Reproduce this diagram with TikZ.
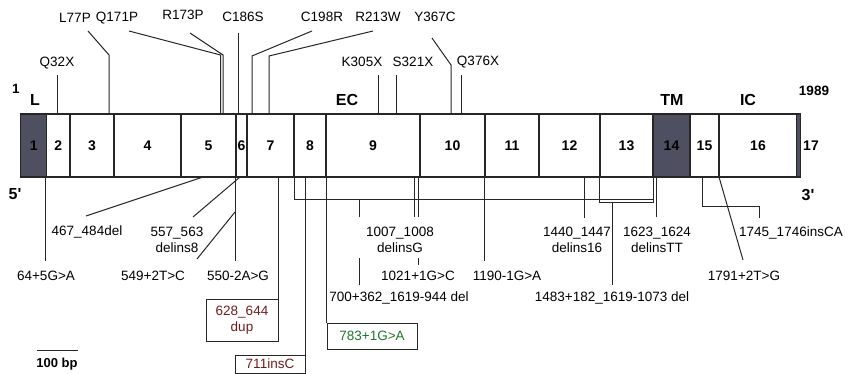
\documentclass[tikz,border=0pt]{standalone}
\usepackage{fontspec}
\setmainfont{Liberation Sans}[Ligatures=TeXOff]
\usepackage{xcolor}
\usepackage{tikz}
\usetikzlibrary{positioning, calc}

\definecolor{exdark}{RGB}{78,80,98}
\definecolor{dupred}{RGB}{112,28,28}
\definecolor{splgreen}{RGB}{28,120,40}

\begin{document}
\begin{tikzpicture}[
    x=1pt, y=-1pt,
    exon/.style={rectangle, draw=black!85, line width=1.2pt, minimum height=63pt, inner sep=0pt, font=\bfseries\fontsize{14}{16}\selectfont},
    exonnum/.style={inner sep=0pt, font=\bfseries\fontsize{14}{16}\selectfont},
    region/.style={inner sep=0pt, font=\bfseries\fontsize{16}{18}\selectfont},
    endnum/.style={inner sep=0pt, font=\bfseries\fontsize{13.5}{15}\selectfont},
    mut/.style={inner sep=1pt, align=center, font=\fontsize{13.5}{16}\selectfont},
    mutbox/.style={rectangle, draw=black!85, line width=1pt, inner sep=0pt, align=center, font=\fontsize{13.5}{16}\selectfont},
    conn/.style={line width=1pt, draw=black!85}
]
    \useasboundingbox (0,0) rectangle (854,374);

    % Exons
    \foreach \n/\l/\r/\c in {1/20.7/46.7/exdark, 2/46.7/70/white, 3/70/114/white, 4/114/181/white, 5/181/236/white, 6/236/247/white, 7/247/294/white, 8/294/326/white, 9/326/420/white, 10/420/485/white, 11/485/539/white, 12/539/600/white, 13/600/653/white, 14/653/690/exdark, 15/690/719/white, 16/719/797/white}
        \node[exon, fill=\c, minimum width={(\r-\l)*1pt}] (e\n) at ({(\l+\r)/2},145.5) {\n};
    \node[exon, fill=exdark, minimum width=3.3pt] (e17) at (798.5,145.5) {};
    \node[exonnum] (n17) at (811,146) {17};

    % Regions and ends
    \node[endnum] (first) at (16,89) {1};
    \node[endnum] (last) at (814,91) {1989};
    \node[region] (lreg) at (35,100) {L};
    \node[region] (ecreg) at (347,100) {EC};
    \node[region] (tmreg) at (672,100) {TM};
    \node[region] (icreg) at (748,100) {IC};
    \node[region] (five) at (15,194) {5'};
    \node[region] (three) at (808,195) {3'};

    % Mutations above the gene
    \node[mut] (q32x) at (57,63) {Q32X};
    \node[mut] (l77p) at (75,18) {L77P};
    \node[mut] (q171p) at (117,18) {Q171P};
    \node[mut] (r173p) at (183,15) {R173P};
    \node[mut] (c186s) at (243,17) {C186S};
    \node[mut] (c198r) at (322,17) {C198R};
    \node[mut] (r213w) at (378,17) {R213W};
    \node[mut] (y367c) at (435,17) {Y367C};
    \node[mut] (k305x) at (362,62) {K305X};
    \node[mut] (s321x) at (413,62) {S321X};
    \node[mut] (q376x) at (478,62) {Q376X};

    \coordinate (q32x-a) at (57,75);
    \coordinate (l77p-a) at (88,31);
    \coordinate (l77p-b) at (109,55);
    \coordinate (q171p-a) at (129,31);
    \coordinate (q171p-b) at (220.5,55);
    \coordinate (r173p-a) at (190,33);
    \coordinate (r173p-b) at (223,55);
    \coordinate (c186s-a) at (238,33);
    \coordinate (c198r-a) at (312,31);
    \coordinate (c198r-b) at (252,56);
    \coordinate (r213w-a) at (373,31);
    \coordinate (r213w-b) at (269,56);
    \coordinate (y367c-a) at (432,38);
    \coordinate (y367c-b) at (451,65);
    \coordinate (k305x-a) at (378,75);
    \coordinate (s321x-a) at (396,75);
    \coordinate (q376x-a) at (461,75);

    \draw[conn] (q32x-a) -- (q32x-a |- e2.north);
    \draw[conn] (l77p-a) -- (l77p-b) -- (l77p-b |- e3.north);
    \draw[conn] (q171p-a) -- (q171p-b) -- (q171p-b |- e5.north);
    \draw[conn] (r173p-a) -- (r173p-b) -- (r173p-b |- e5.north);
    \draw[conn] (c186s-a) -- (c186s-a |- e6.north);
    \draw[conn] (c198r-a) -- (c198r-b) -- (c198r-b |- e7.north);
    \draw[conn] (r213w-a) -- (r213w-b) -- (r213w-b |- e7.north);
    \draw[conn] (y367c-a) -- (y367c-b) -- (y367c-b |- e10.north);
    \draw[conn] (k305x-a) -- (k305x-a |- e9.north);
    \draw[conn] (s321x-a) -- (s321x-a |- e9.north);
    \draw[conn] (q376x-a) -- (q376x-a |- e10.north);

    % Mutations below the gene
    \node[mut] (m64) at (46,276) {64+5G>A};
    \node[mut] (m467) at (87,232) {467\_484del};
    \node[mut] (m557) at (177,240) {557\_563\\delins8};
    \node[mut] (m549) at (153,276) {549+2T>C};
    \node[mut] (m550) at (238,276) {550-2A>G};
    \node[mut] (m700) at (399,298) {700+362\_1619-944 del};
    \node[mut] (m1007) at (400,240) {1007\_1008\\delinsG};
    \node[mut] (m1021) at (418,276) {1021+1G>C};
    \node[mut] (m1190) at (507,276) {1190-1G>A};
    \node[mut] (m1440) at (577,240) {1440\_1447\\delins16};
    \node[mut] (m1483) at (612,298) {1483+182\_1619-1073 del};
    \node[mut] (m1623) at (657,240) {1623\_1624\\delinsTT};
    \node[mut] (m1745) at (791,233) {1745\_1746insCA};
    \node[mut] (m1791) at (744,276) {1791+2T>G};

    \coordinate (m64-a) at (45,261);
    \coordinate (m467-a) at (203,177);
    \coordinate (m467-b) at (86,216);
    \coordinate (m557-a) at (240,177);
    \coordinate (m557-b) at (193,217);
    \coordinate (m550-a) at (235,261);
    \coordinate (m549-a) at (235,212);
    \coordinate (m549-b) at (197,259);
    \coordinate (m700-a) at (294,200);
    \coordinate (m700-b) at (653,200);
    \coordinate (m700-c) at (359,217);
    \coordinate (m700-d) at (359,258);
    \coordinate (m700-e) at (359,285);
    \coordinate (m1007-a) at (414,217);
    \coordinate (m1021-a) at (418,217);
    \coordinate (m1021-b) at (418,258);
    \coordinate (m1021-c) at (418,265);
    \coordinate (m1190-a) at (484,261);
    \coordinate (m1440-a) at (584,218);
    \coordinate (m1483-a) at (599,203);
    \coordinate (m1483-b) at (653,203);
    \coordinate (m1483-c) at (612,285);
    \coordinate (m1623-a) at (656,217);
    \coordinate (m1745-a) at (702,207);
    \coordinate (m1745-b) at (759,207);
    \coordinate (m1745-c) at (759,218);
    \coordinate (m1791-a) at (719,177);
    \coordinate (m1791-b) at (743,260);

    \draw[conn] (m64-a |- e1.south) -- (m64-a);
    \draw[conn] (m467-a) -- (m467-b);
    \draw[conn] (m557-a) -- (m557-b);
    \draw[conn] (m550-a |- e5.south) -- (m550-a);
    \draw[conn] (m549-a) -- (m549-b);
    \draw[conn] (m700-a |- e8.south) -- (m700-a) -- (m700-b) -- (m700-b |- e14.south);
    \draw[conn] (m700-c |- m700-a) -- (m700-c);
    \draw[conn] (m700-d) -- (m700-e);
    \draw[conn] (m1007-a |- e9.south) -- (m1007-a);
    \draw[conn] (m1021-a |- e9.south) -- (m1021-a);
    \draw[conn] (m1021-b) -- (m1021-c);
    \draw[conn] (m1190-a |- e10.south) -- (m1190-a);
    \draw[conn] (m1440-a |- e12.south) -- (m1440-a);
    \draw[conn] (m1483-a |- e13.south) -- (m1483-a) -- (m1483-b) -- (m1483-b |- e14.south);
    \draw[conn] (m1483-c |- m1483-a) -- (m1483-c);
    \draw[conn] (m1623-a |- e14.south) -- (m1623-a);
    \draw[conn] (m1745-a |- e15.south) -- (m1745-a) -- (m1745-b) -- (m1745-c);
    \draw[conn] (m1791-a) -- (m1791-b);

    % Boxed mutations
    \node[mutbox, text=dupred, minimum width=72pt, minimum height=42pt] (m628) at (242,320) {628\_644\\dup};
    \node[mutbox, text=dupred, minimum width=70pt, minimum height=18pt] (m711) at (270,364) {711insC};
    \node[mutbox, text=splgreen, minimum width=90pt, minimum height=26pt] (m783) at (372,336) {783+1G>A};

    \draw[conn] (m628.north east |- e7.south) -- (m628.north east);
    \draw[conn] (m711.north east |- e8.south) -- (m711.north east);
    \draw[conn] (m783.north west |- e9.south) -- (m783.north west);

    % Scale bar
    \coordinate (sb-l) at (37,350);
    \coordinate (sb-r) at (78,350);
    \draw[conn] (sb-l) -- (sb-r);
    \node[mut, font=\bfseries\fontsize{13}{15}\selectfont] (sblbl) at (57,364) {100 bp};

\end{tikzpicture}
\end{document}
